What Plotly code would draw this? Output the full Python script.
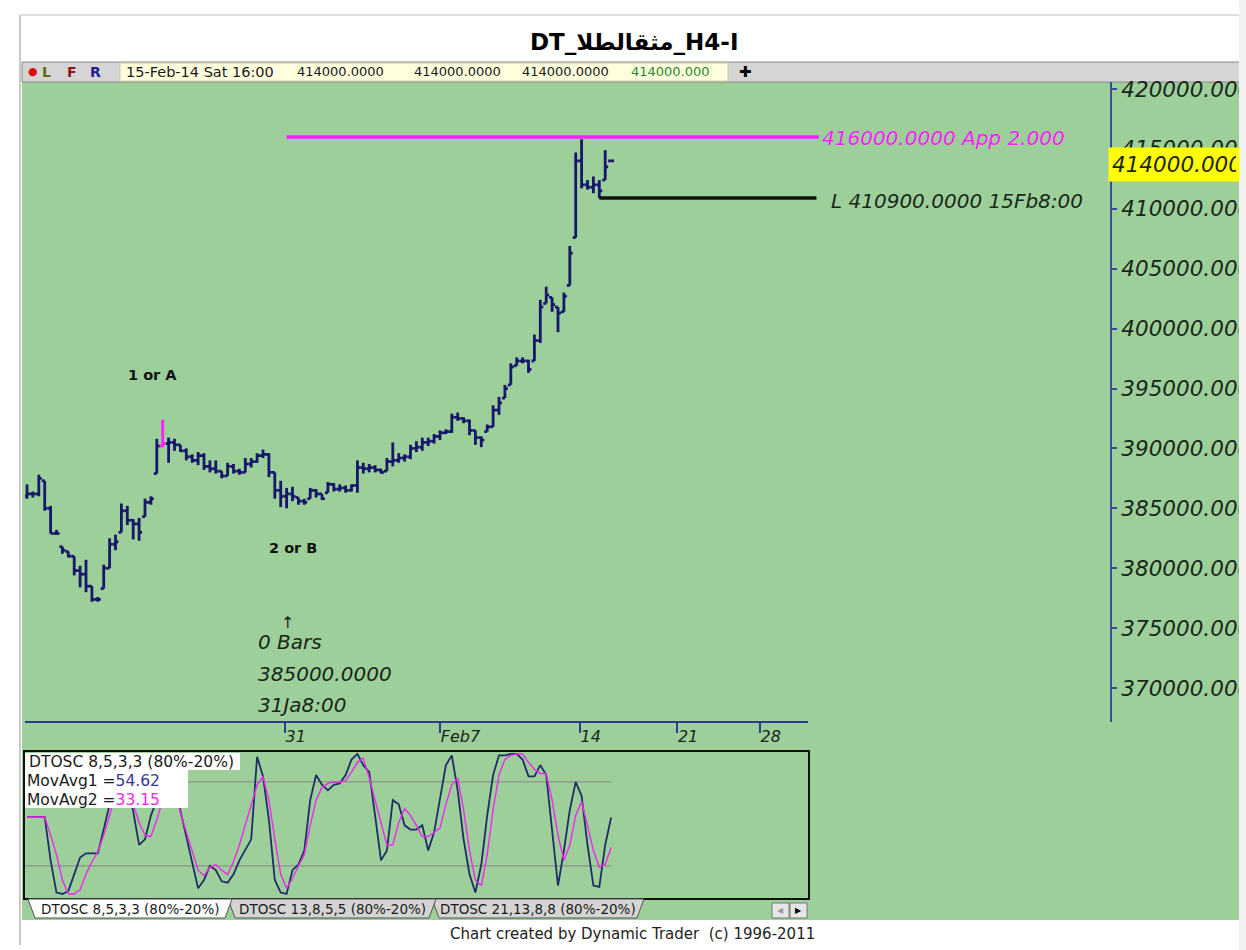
import plotly.graph_objects as go

W, H = 1246, 950

# H4 price bars, oldest first; the last bar is 15-Feb-14 Sat 16:00
highs = [
    387000, 386400, 387800, 387300, 385200, 383200, 381800, 381400, 381000, 380200,
    380700, 378500, 377600, 380300, 382500, 382800, 385400, 385200, 384100, 384200,
    385800, 386000, 390800, 392400, 390900, 390800, 390300, 390000, 389500, 389700,
    389600, 389000, 389000, 388100, 388800, 388700, 388300, 389200, 389200, 389600,
    389900, 389600, 388000, 387300, 386700, 386800, 385900, 385800, 386700, 386600,
    386200, 387200, 387100, 387000, 386900, 387000, 389000, 388800, 388700, 388600,
    388300, 389200, 390500, 389600, 389500, 390300, 390600, 390900, 390900, 391200,
    391500, 391600, 392900, 393000, 392600, 392400, 391500, 391000, 392000, 393600,
    394300, 395300, 397100, 397600, 397600, 397400, 399500, 402400, 403500, 402600,
    401800, 403000, 406900, 414700, 415800, 412400, 412700, 412400, 414900, 414000,
]
lows = [
    385800, 385900, 386000, 384800, 382900, 382800, 381200, 380900, 379400, 378400,
    378000, 377200, 377200, 378300, 380000, 381500, 383000, 383600, 382400, 382300,
    384300, 385300, 387900, 390100, 388800, 389800, 389700, 389000, 388800, 388600,
    388200, 388000, 387900, 387500, 387700, 387900, 387800, 388000, 388400, 388800,
    389200, 387600, 385800, 385100, 385000, 385600, 385300, 385300, 385800, 385900,
    385700, 386300, 386400, 386400, 386300, 386400, 386300, 387900, 388000, 388000,
    387900, 388100, 388500, 388800, 388900, 389100, 389700, 389800, 390200, 390400,
    390700, 391200, 391300, 392300, 392100, 391100, 390300, 390100, 391400, 391800,
    392800, 394200, 395300, 396900, 397100, 396300, 397300, 398800, 402100, 401400,
    399700, 401400, 403600, 407600, 411700, 411600, 411300, 410900, 412400, 414000,
]
closes = [
    386200, 386200, 387500, 385000, 382900, 382900, 381500, 381000, 379800, 379500,
    378500, 377400, 377400, 380000, 382000, 382200, 384800, 384000, 383700, 383000,
    385500, 385800, 390200, 390400, 390500, 390300, 389800, 389300, 389000, 389400,
    388500, 388300, 388100, 387700, 388500, 388100, 388000, 388700, 388900, 389400,
    389500, 388000, 386500, 386000, 386200, 386000, 385600, 385500, 386500, 386200,
    385800, 387000, 386600, 386700, 386500, 386900, 388400, 388300, 388400, 388200,
    388000, 388900, 389000, 389200, 389300, 390000, 390100, 390500, 390600, 391000,
    391300, 391400, 392600, 392500, 392300, 391500, 390900, 390700, 391800, 393200,
    393800, 395000, 396800, 397300, 397300, 396600, 399000, 401800, 402800, 402000,
    401300, 402700, 406300, 414000, 412000, 411800, 412000, 411500, 413500, 414000,
]
first_open = 386000

# DTOSC 8,5,3,3 lines
osc_fast = [
    55, 55, 55, 55, 24, 1, 0, 2, 14, 26,
    29, 29, 29, 46, 64, 85, 94, 78, 59, 35,
    39, 56, 67, 85, 92, 78, 59, 42, 21, 4,
    10, 20, 17, 9, 8, 14, 24, 31, 39, 98,
    84, 53, 10, 1, 0, 17, 21, 31, 67, 85,
    78, 74, 78, 79, 85, 96, 100, 92, 87, 56,
    24, 31, 67, 64, 49, 46, 46, 49, 31, 44,
    67, 92, 99, 74, 39, 14, 1, 21, 56, 85,
    99, 99, 100, 100, 96, 84, 84, 92, 85, 46,
    6, 31, 60, 80, 70, 35, 6, 5, 35, 54.62,
]
osc_slow = [
    55, 55, 55, 55, 42, 28, 10, 0, 0, 3,
    14, 23, 30, 42, 56, 71, 78, 74, 64, 51,
    42, 41, 53, 67, 78, 74, 58, 44, 31, 17,
    13, 19, 21, 17, 14, 23, 35, 49, 64, 78,
    84, 67, 39, 14, 4, 11, 20, 28, 49, 67,
    76, 79, 80, 80, 81, 87, 94, 97, 83, 67,
    53, 35, 35, 51, 61, 56, 49, 41, 41, 44,
    47, 64, 78, 83, 60, 31, 10, 6, 28, 60,
    85, 96, 99, 100, 100, 94, 89, 86, 86, 67,
    42, 24, 35, 56, 66, 49, 31, 19, 21, 33.15,
]
osc_levels = [80, 20]

price_ticks = [370000, 375000, 380000, 385000, 390000, 395000,
               400000, 405000, 410000, 415000, 420000]
date_tick_pos = [43.7, 70.0, 93.7, 110.2, 124.2]
date_tick_text = ['31', 'Feb7', '14', '21', '28']

pivot_a = 23        # "1 or A" high (magenta bar)
pivot_b = 44        # "2 or B" low, 31Ja8:00
low_bar = 97        # L 15Fb8:00
target_price = 416000
target_ratio = 2.0
line_end = 134.2    # bar index where projection lines stop

# --- geometry -------------------------------------------------------------
BAR_PX, FIRST_BAR_PX = 5.9, 27
NAVY = '#17176b'
MAGENTA = '#ff1fff'
GREEN = '#9ccf99'
HAND = dict(family='DejaVu Sans', style='italic', size=20, color='#1b261b')


def px(x):
    return x / W


def py(y):
    return 1 - y / H


def bar_idx(xpix):
    return (xpix - FIRST_BAR_PX) / BAR_PX


opens = [first_open] + closes[:-1]
opens = [min(max(o, l), h) for o, l, h in zip(opens, lows, highs)]


def bar_path(idx, tick=0.5):
    xs, ys = [], []
    for i in idx:
        xs += [i, i, None, i - tick, i, None, i, i + tick, None]
        ys += [lows[i], highs[i], None, opens[i], opens[i], None,
               closes[i], closes[i], None]
    return xs, ys


fig = go.Figure()

nx, ny = bar_path([i for i in range(len(closes)) if i != pivot_a])
fig.add_trace(go.Scatter(x=nx, y=ny, mode='lines', line=dict(color=NAVY, width=2.8),
                         hoverinfo='skip'))
mx, my = bar_path([pivot_a])
fig.add_trace(go.Scatter(x=mx, y=my, mode='lines', line=dict(color=MAGENTA, width=2.8),
                         hoverinfo='skip'))

# projection target and last swing low
fig.add_trace(go.Scatter(x=[pivot_b, line_end], y=[target_price, target_price], mode='lines',
                         line=dict(color=MAGENTA, width=3.5), hoverinfo='skip'))
fig.add_trace(go.Scatter(x=[low_bar, line_end - 0.4], y=[lows[low_bar], lows[low_bar]],
                         mode='lines', line=dict(color='#111111', width=3.5), hoverinfo='skip'))

# oscillator
n = len(osc_fast)
osc_x = list(range(n))
x2_range = [bar_idx(25), bar_idx(808)]
for lvl in osc_levels:
    fig.add_trace(go.Scatter(x=[x2_range[0], n - 1], y=[lvl, lvl], mode='lines',
                             line=dict(color='#8c948c', width=1.2), xaxis='x2', yaxis='y2',
                             hoverinfo='skip'))
fig.add_trace(go.Scatter(x=osc_x, y=osc_fast, mode='lines', line=dict(color='#1f2d66', width=1.8),
                         xaxis='x2', yaxis='y2', hoverinfo='skip'))
fig.add_trace(go.Scatter(x=osc_x, y=osc_slow, mode='lines', line=dict(color='#f028f0', width=1.4),
                         xaxis='x2', yaxis='y2', hoverinfo='skip'))


# --- frame, toolbar, tabs ---------------------------------------------------
def rect(x0, y0, x1, y1, fill, line=None, lw=0, layer='below'):
    return dict(type='rect', xref='paper', yref='paper', x0=px(x0), x1=px(x1),
                y0=py(y1), y1=py(y0), fillcolor=fill, layer=layer,
                line=dict(color=line or fill, width=lw))


def tab(x0, x1, fill):
    pts = [(x0, 899), (x0 + 7, 918), (x1 - 7, 918), (x1, 899)]
    path = 'M ' + ' L '.join(f'{px(a):.5f} {py(b):.5f}' for a, b in pts) + ' Z'
    return dict(type='path', xref='paper', yref='paper', path=path, fillcolor=fill,
                line=dict(color='#555555', width=1), layer='above')


shapes = [
    rect(22, 82, 1240, 920, GREEN),
    rect(22, 62, 1240, 82, '#d5d5d5', '#8a8a8a', 1),
    rect(120, 63, 728, 81, '#ffffde', '#c9c9a8', 1),
    dict(type='line', xref='paper', yref='paper', x0=px(20), x1=px(20), y0=py(945), y1=py(15),
         line=dict(color='#c8c8c8', width=2)),
    dict(type='line', xref='paper', yref='paper', x0=px(20), x1=px(1246), y0=py(15), y1=py(15),
         line=dict(color='#dddddd', width=2)),
    dict(type='line', xref='paper', yref='paper', x0=px(25), x1=px(808), y0=py(722), y1=py(722),
         line=dict(color='#2c3d8c', width=2)),
    rect(25, 753, 240, 770, 'white', layer='above'),
    rect(25, 770, 188, 808, 'white', layer='above'),
    tab(432, 644, '#d4d4d4'),
    tab(228, 436, '#d4d4d4'),
    tab(28, 232, 'white'),
    rect(772, 903, 789, 918, '#e6e6e6', '#777777', 1, 'above'),
    rect(790, 903, 807, 918, '#e6e6e6', '#777777', 1, 'above'),
    rect(1239, 0, 1246, 950, '#f2f2f2', layer='above'),
]


def label(x, y, text, size=13, color='#1a1a1a', anchor='left', weight='normal',
          family='DejaVu Sans'):
    return dict(xref='paper', yref='paper', x=px(x), y=py(y), text=text, showarrow=False,
                xanchor=anchor, yanchor='middle',
                font=dict(family=family, size=size, color=color, weight=weight))


def hand(x, y, text, xanchor='left', xshift=0, yshift=0, color='#1b261b', size=20):
    return dict(xref='x', yref='y', x=x, y=y, text=text, showarrow=False, xanchor=xanchor,
                yanchor='middle', xshift=xshift, yshift=yshift,
                font=dict(HAND, color=color, size=size))


last = f'{closes[-1]:.4f}'
annotations = [
    label(634, 42, 'DT_مثقالطلا_H4-I', size=23, color='black', anchor='center', weight='bold'),
    label(26, 72, '●', size=11, color='#e01010'),
    label(40, 72, 'L', size=14, color='#5d6a10', weight='bold'),
    label(65, 72, 'F', size=14, color='#8c1414', weight='bold'),
    label(88, 72, 'R', size=14, color='#1c1c90', weight='bold'),
    label(124, 72, '15-Feb-14 Sat 16:00', size=14.5),
    label(295, 72, last, size=13),
    label(412, 72, last, size=13),
    label(520, 72, last, size=13),
    label(629, 72, last[:-1], size=13, color='#2c8a2c'),
    label(745, 72, '✚', size=15, color='black', anchor='center'),
    # oscillator legend
    label(27, 762, 'DTOSC 8,5,3,3 (80%-20%)', size=15.5),
    label(25, 781, f"MovAvg1 =<span style='color:#38389a'>{osc_fast[-1]:.2f}</span>", size=15.5),
    label(25, 800, f"MovAvg2 =<span style='color:#f028f0'>{osc_slow[-1]:.2f}</span>", size=15.5),
    # tabs
    label(130, 909, 'DTOSC 8,5,3,3 (80%-20%)', size=13.5, anchor='center'),
    label(332, 909, 'DTOSC 13,8,5,5 (80%-20%)', size=13.5, anchor='center'),
    label(538, 909, 'DTOSC 21,13,8,8 (80%-20%)', size=13.5, anchor='center'),
    label(780.5, 910.5, '◀', size=8, color='#9a9a9a', anchor='center'),
    label(798.5, 910.5, '▶', size=8, color='black', anchor='center'),
    label(632, 934, 'Chart created by Dynamic Trader  (c) 1996-2011', size=15,
          color='#222222', anchor='center'),
    # swing labels
    dict(xref='x', yref='y', x=pivot_a, y=highs[pivot_a], text='1 or A', showarrow=False,
         xshift=-10, yshift=45, font=dict(family='DejaVu Sans', size=14.5, weight='bold',
                                           color='#111111')),
    dict(xref='x', yref='y', x=pivot_b, y=lows[pivot_b], text='2 or B', showarrow=False,
         xshift=6, yshift=-40, font=dict(family='DejaVu Sans', size=14.5, weight='bold',
                                          color='#111111')),
    hand(pivot_b, lows[pivot_b], '↑', xanchor='center', xshift=1, yshift=-114, size=16),
    hand(pivot_b, lows[pivot_b], '0 Bars', xshift=-31, yshift=-134),
    hand(pivot_b, lows[pivot_b], f'{lows[pivot_b]:.4f}', xshift=-31, yshift=-166),
    hand(pivot_b, lows[pivot_b], '31Ja8:00', xshift=-31, yshift=-197),
    hand(line_end, target_price, f'{target_price:.4f} App {target_ratio:.3f}', xshift=1,
         yshift=-1, color=MAGENTA),
    hand(line_end, lows[low_bar], f'L {lows[low_bar]:.4f} 15Fb8:00', xshift=10, yshift=-3),
    # current price marker on the price scale
    dict(xref='paper', yref='y', x=px(1108), y=closes[-1], text=f'{closes[-1]:.3f}',
         showarrow=False, xanchor='left', yanchor='middle', align='left', yshift=-4,
         width=124, height=27, borderpad=3, bgcolor='#ffff00',
         font=dict(HAND, size=21.5)),
]

fig.update_layout(
    width=W, height=H,
    margin=dict(l=0, r=0, t=0, b=0),
    paper_bgcolor='white',
    plot_bgcolor='rgba(0,0,0,0)',
    showlegend=False,
    shapes=shapes,
    annotations=annotations,
    xaxis=dict(
        domain=[px(25), px(1110)], range=[bar_idx(25), bar_idx(1110)],
        showgrid=False, zeroline=False, showline=False,
        tickmode='array', tickvals=date_tick_pos, ticktext=date_tick_text,
        ticks='outside', ticklen=10, tickwidth=1.5, tickcolor='#2c3d8c',
        ticklabelposition='outside right', tickfont=dict(HAND, size=16),
    ),
    yaxis=dict(
        domain=[py(722), py(82)], range=[367163, 420584], side='right',
        showgrid=False, zeroline=False, showline=True, linecolor='#3a4c9a', linewidth=2,
        tickmode='array', tickvals=price_ticks, tickformat='.3f',
        ticks='outside', ticklen=5, tickwidth=1.5, tickcolor='#3a4c9a',
        tickfont=dict(HAND, size=21.5), automargin=False,
    ),
    xaxis2=dict(
        domain=[px(25), px(808)], range=x2_range, anchor='y2',
        showgrid=False, zeroline=False, showticklabels=False,
        showline=True, mirror=True, linecolor='#111111', linewidth=1.5,
    ),
    yaxis2=dict(
        domain=[py(898), py(752)], range=[-2.9, 101.4], anchor='x2',
        showgrid=False, zeroline=False, showticklabels=False,
        showline=True, mirror=True, linecolor='#111111', linewidth=1.5,
    ),
)

# the page's default body margin would push the 1246x950 figure out of the window
fig.write_html("out.html", config={'displayModeBar': False},
               post_script="document.body.style.margin = '0';")
